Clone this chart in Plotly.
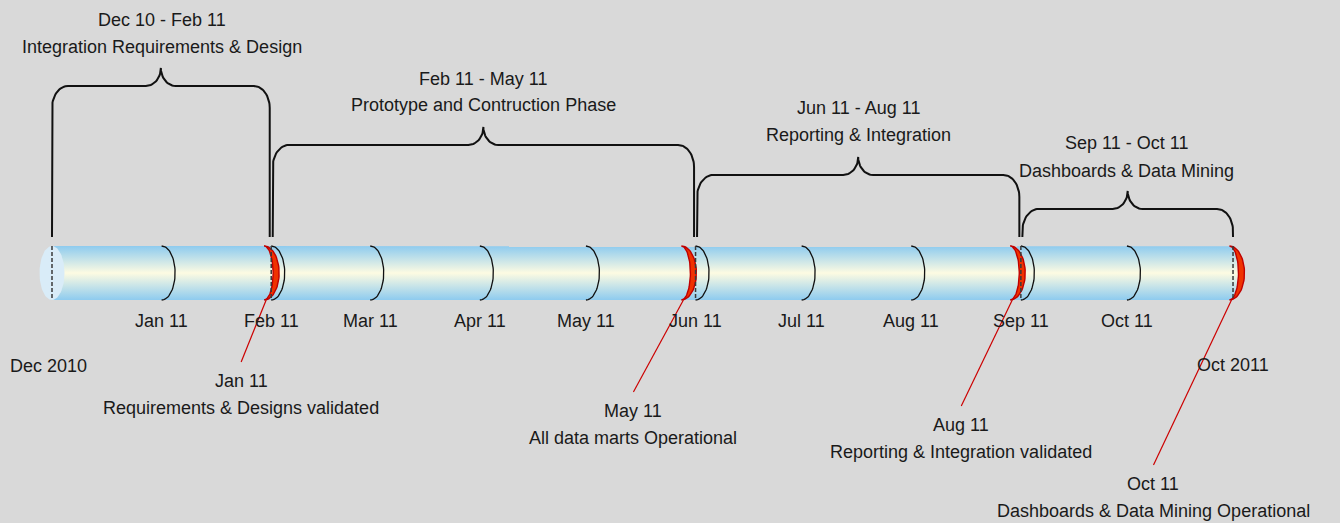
import numpy as np
import pandas as pd
import plotly.graph_objects as go

# ---------------- data ----------------
start_date = "2010-12-01"
end_date = "2011-10-31"
start_label = "Dec 2010"
end_label = "Oct 2011"

month_dates = ["2011-01-01", "2011-02-01", "2011-03-01", "2011-04-01", "2011-05-01",
               "2011-06-01", "2011-07-01", "2011-08-01", "2011-09-01", "2011-10-01"]
month_labels = ["Jan 11", "Feb 11", "Mar 11", "Apr 11", "May 11",
                "Jun 11", "Jul 11", "Aug 11", "Sep 11", "Oct 11"]

phase_starts = ["2010-12-01", "2011-02-01", "2011-06-01", "2011-09-01"]
phase_ends = ["2011-02-01", "2011-06-01", "2011-09-01", "2011-10-31"]
phase_ranges = ["Dec 10 - Feb 11", "Feb 11 - May 11", "Jun 11 - Aug 11", "Sep 11 - Oct 11"]
phase_names = ["Integration Requirements & Design", "Prototype and Contruction Phase",
               "Reporting & Integration", "Dashboards & Data Mining"]

milestone_dates = ["2011-01-30", "2011-05-28", "2011-08-29", "2011-10-30"]
milestone_labels = ["Jan 11", "May 11", "Aug 11", "Oct 11"]
milestone_names = ["Requirements & Designs validated", "All data marts Operational",
                   "Reporting & Integration validated", "Dashboards & Data Mining Operational"]

# ---------------- layout / style constants ----------------
W, H = 1340, 523
PPD = 3.536          # pixels per day
X0_PX = 52           # pixel of start date
TUBE_TOP, TUBE_BOT = 246, 300
TUBE_MID = (TUBE_TOP + TUBE_BOT) / 2
RY = (TUBE_BOT - TUBE_TOP) / 2
ARC_RX = 13.5
BAR_Y = [86, 145, 175, 209]
TIP_H = 18
BRACE_BOT = 237
PHASE_Y1 = [20, 79, 108, 143]
PHASE_Y2 = [47, 105, 135, 171]
MS_LABEL_DX = [-23, -48, -49, -76]
MS_LABEL_Y = [381, 411, 425, 484]
LINE_GAP = 27
FONT = dict(family="Liberation Sans, Arial, sans-serif", size=18, color="#1a1a1a")
BG = "#d9d9d9"

t0 = pd.Timestamp(start_date)


def d(s):
    return (pd.Timestamp(s) - t0).total_seconds() / 86400.0


def px(n):
    return n / PPD


def half_ellipse(cx, rx_px, t_from, t_to, n=40):
    t = np.radians(np.linspace(t_from, t_to, n))
    return cx + px(rx_px) * np.cos(t), TUBE_MID + RY * np.sin(t)


fig = go.Figure()

# tube body with rounded right end
xs, xe = d(start_date), d(milestone_dates[-1])
ax, ay = half_ellipse(xe, 15, -90, 90)
tube_x = [xs] + list(ax) + [xs, xs]
tube_y = [TUBE_TOP] + list(ay) + [TUBE_BOT, TUBE_TOP]
fig.add_trace(go.Scatter(
    x=tube_x, y=tube_y, mode="lines", fill="toself", line=dict(width=0),
    fillgradient=dict(type="vertical",
                      colorscale=[[0, "#8ecbef"], [0.5, "#fdfbe2"], [1, "#8ecbef"]]),
    hoverinfo="skip"))

# left end cap
ex, ey = half_ellipse(xs, 12.5, 0, 360, 80)
fig.add_trace(go.Scatter(x=ex, y=ey, mode="lines", fill="toself",
                         fillcolor="#d9ecf8", line=dict(width=0), hoverinfo="skip"))

# month arcs
for m in month_dates:
    mx, my = half_ellipse(d(m), ARC_RX, -90, 90)
    fig.add_trace(go.Scatter(x=mx, y=my, mode="lines",
                             line=dict(color="#111111", width=1.3), hoverinfo="skip"))

# milestone crescents
for m in milestone_dates:
    ox, oy = half_ellipse(d(m), 15, -90, 90)
    ix, iy = half_ellipse(d(m), 9, 90, -90)
    fig.add_trace(go.Scatter(x=list(ox) + list(ix), y=list(oy) + list(iy), mode="lines",
                             fill="toself", fillcolor="#f03200",
                             line=dict(color="#c00000", width=1.4), hoverinfo="skip"))

# dashed phase boundaries
for b in [start_date] + phase_ends:
    fig.add_trace(go.Scatter(x=[d(b), d(b)], y=[TUBE_TOP, TUBE_BOT], mode="lines",
                             line=dict(color="#3a3a3a", width=1.5, dash="4px,2px"),
                             hoverinfo="skip"))


# braces
def brace(xl, xr, ybar, ytip, ybot, rx=16, ry=22, tw=15):
    xm = (xl + xr) / 2
    X, Y = [xl], [ybot]

    def arc(cx, cy, rxx, ryy, a, b):
        t = np.radians(np.linspace(a, b, 20))
        X.extend(cx + rxx * np.cos(t))
        Y.extend(cy + ryy * np.sin(t))

    arc(xl + rx, ybar + ry, rx, ry, 180, 270)
    arc(xm - tw, ytip, tw, ybar - ytip, 90, 0)
    arc(xm + tw, ytip, tw, ybar - ytip, 180, 90)
    arc(xr - rx, ybar + ry, rx, ry, 270, 360)
    X.append(xr)
    Y.append(ybot)
    return X, Y


n_ph = len(phase_starts)
for i in range(n_ph):
    xl_px = X0_PX + d(phase_starts[i]) * PPD + (1.5 if i > 0 else 0)
    xr_px = X0_PX + d(phase_ends[i]) * PPD - (1.5 if i < n_ph - 1 else 0)
    bx, by = brace(xl_px, xr_px, BAR_Y[i], BAR_Y[i] - TIP_H, BRACE_BOT)
    bx = [(v - X0_PX) / PPD for v in bx]
    fig.add_trace(go.Scatter(x=bx, y=by, mode="lines",
                             line=dict(color="#111111", width=2), hoverinfo="skip"))
    cx = (d(phase_starts[i]) + d(phase_ends[i])) / 2
    fig.add_annotation(x=cx, y=PHASE_Y1[i], text=phase_ranges[i])
    fig.add_annotation(x=cx, y=PHASE_Y2[i], text=phase_names[i])

# milestone leader lines and labels
for i, m in enumerate(milestone_dates):
    lx = d(m) + px(MS_LABEL_DX[i])
    fig.add_trace(go.Scatter(x=[d(m) + px(2), lx], y=[TUBE_BOT, MS_LABEL_Y[i] - 19],
                             mode="lines", line=dict(color="#cc0000", width=1.2),
                             hoverinfo="skip"))
    fig.add_annotation(x=lx, y=MS_LABEL_Y[i], text=milestone_labels[i])
    fig.add_annotation(x=lx, y=MS_LABEL_Y[i] + LINE_GAP, text=milestone_names[i])

# month labels
for m, lab in zip(month_dates, month_labels):
    fig.add_annotation(x=d(m), y=321, text=lab)

# start / end labels
fig.add_annotation(x=d(start_date) - px(4), y=366, text=start_label)
fig.add_annotation(x=d(end_date), y=365, text=end_label)

fig.update_annotations(showarrow=False, font=FONT, xanchor="center", yanchor="middle")

fig.update_layout(
    width=W, height=H, margin=dict(l=0, r=0, t=0, b=0),
    paper_bgcolor=BG, plot_bgcolor=BG, showlegend=False,
    xaxis=dict(range=[-X0_PX / PPD, (W - X0_PX) / PPD], visible=False, fixedrange=True),
    yaxis=dict(range=[H, 0], visible=False, fixedrange=True),
)

fig.write_html("out.html", config={"displayModeBar": False},
               post_script="document.body.style.margin='0';document.body.style.overflow='hidden';")
